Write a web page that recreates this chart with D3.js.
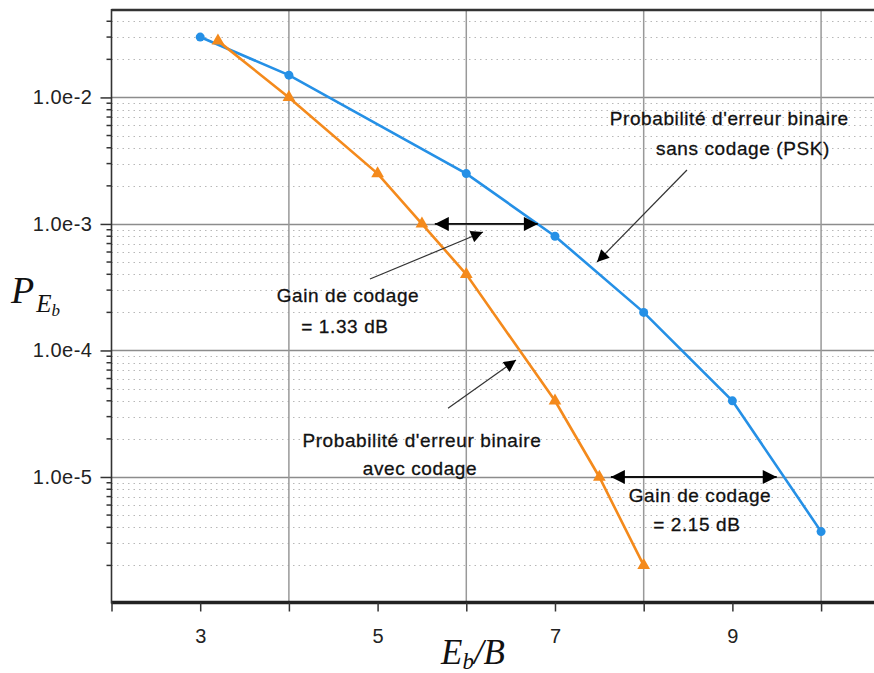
<!DOCTYPE html>
<html>
<head>
<meta charset="utf-8">
<script src="https://cdn.jsdelivr.net/npm/d3@7"></script>
<style>
  body { margin: 0; background: #fff; }
  .ann { font-family: "Liberation Sans", Arial, sans-serif; font-size: 19px; letter-spacing: 0.6px; fill: #111; stroke: #111; stroke-width: 0.3px; }
  .tick text { font-family: "Liberation Sans", Arial, sans-serif; }
  .math { font-family: "Liberation Serif", "DejaVu Serif", serif; font-style: italic; fill: #111; }
</style>
</head>
<body>
<div id="chart"></div>
<script>
var width = 874,
    height = 673;

// curves: Eb/B (dB) and bit error probability
var psk_x = [3, 4, 6, 7, 8, 9, 10];
var psk_p = [3.0e-2, 1.5e-2, 2.5e-3, 8.0e-4, 2.0e-4, 4.0e-5, 3.7e-6];
var cod_x = [3.2, 4, 5, 5.5, 6, 7, 7.5, 8];
var cod_p = [2.8e-2, 1.0e-2, 2.5e-3, 1.0e-3, 4.0e-4, 4.0e-5, 1.0e-5, 2.0e-6];

var xTicks = [2, 3, 4, 5, 6, 7, 8, 9, 10];
var xLabels = [3, 5, 7, 9];
var xGrid = [4, 6, 8, 10];
var yMajor = [1e-2, 1e-3, 1e-4, 1e-5];
var yLabels = ["1.0e-2", "1.0e-3", "1.0e-4", "1.0e-5"];

// annotations (data units)
var gainArrows = [
  { x1: 5.645, x2: 6.807, p: 1e-3 },
  { x1: 7.63, x2: 9.50, p: 1e-5 }
];
var pointers = [
  { x1: 4.914, p1: 3.67e-4, x2: 6.188, p2: 8.63e-4 },
  { x1: 5.794, p1: 3.5e-5, x2: 6.56, p2: 8.4e-5 },
  { x1: 8.488, p1: 2.67e-3, x2: 7.474, p2: 5.0e-4 }
];
var labels = [
  { t: "Probabilité d'erreur binaire", x: 8.965, p: 6.0e-3 },
  { t: "sans codage (PSK)", x: 9.12, p: 3.5e-3 },
  { t: "Gain de codage", x: 4.666, p: 2.42e-4 },
  { t: "= 1.33 dB", x: 4.632, p: 1.375e-4 },
  { t: "Probabilité d'erreur binaire", x: 5.50, p: 1.73e-5 },
  { t: "avec codage", x: 5.478, p: 1.04e-5 },
  { t: "Gain de codage", x: 8.635, p: 6.35e-6 },
  { t: "= 2.15 dB", x: 8.60, p: 3.75e-6 }
];

var plotLeft = 111.5, plotTop = 9, plotBottom = 603.5;

var x = d3.scaleLinear()
    .domain([2, 10.6])
    .range([plotLeft, 874.3]);

var y = d3.scaleLog()
    .domain([1e-6, 0.05])
    .range([plotBottom, plotTop]);

var svg = d3.select("#chart").append("svg")
    .attr("width", width)
    .attr("height", height);

svg.append("rect")
    .attr("width", width)
    .attr("height", height)
    .attr("fill", "#fff");

var defs = svg.append("defs");
defs.append("marker")
    .attr("id", "head")
    .attr("viewBox", "0 0 10 10")
    .attr("refX", 10).attr("refY", 5)
    .attr("markerWidth", 15).attr("markerHeight", 14)
    .attr("markerUnits", "userSpaceOnUse")
    .attr("orient", "auto-start-reverse")
    .append("path")
    .attr("d", "M0,0L10,5L0,10Z")
    .attr("fill", "#000");
defs.append("marker")
    .attr("id", "small")
    .attr("viewBox", "0 0 10 10")
    .attr("refX", 10).attr("refY", 5)
    .attr("markerWidth", 14).attr("markerHeight", 12)
    .attr("markerUnits", "userSpaceOnUse")
    .attr("orient", "auto")
    .append("path")
    .attr("d", "M0,0L10,5L0,10Z")
    .attr("fill", "#000");

// minor grid (dotted)
var minor = [];
for (var e = -6; e < -1; e++) {
  for (var m = 2; m <= 9; m++) {
    var v = m * Math.pow(10, e);
    if (v < 0.05) minor.push(v);
  }
}

var grid = svg.append("g");
grid.selectAll("line.minor")
    .data(minor)
    .enter().append("line")
    .attr("class", "minor")
    .attr("x1", plotLeft).attr("x2", width)
    .attr("y1", function (d) { return Math.round(y(d)) + 0.5; })
    .attr("y2", function (d) { return Math.round(y(d)) + 0.5; })
    .attr("stroke", "#b8b8b8")
    .attr("stroke-dasharray", "1.5,4")
    .attr("stroke-width", 1);

grid.selectAll("line.hmaj")
    .data(yMajor)
    .enter().append("line")
    .attr("class", "hmaj")
    .attr("x1", plotLeft).attr("x2", width)
    .attr("y1", function (d) { return Math.round(y(d)) + 0.5; })
    .attr("y2", function (d) { return Math.round(y(d)) + 0.5; })
    .attr("stroke", "#8c8c8c")
    .attr("stroke-width", 1.3);

grid.selectAll("line.vmaj")
    .data(xGrid)
    .enter().append("line")
    .attr("class", "vmaj")
    .attr("x1", function (d) { return x(d); })
    .attr("x2", function (d) { return x(d); })
    .attr("y1", plotTop).attr("y2", plotBottom)
    .attr("stroke", "#999")
    .attr("stroke-width", 1.5);

// frame
svg.append("line")
    .attr("x1", plotLeft).attr("x2", width)
    .attr("y1", plotTop + 1).attr("y2", plotTop + 1)
    .attr("stroke", "#333").attr("stroke-width", 2.5);

// x axis
var xAxis = svg.append("g")
    .attr("transform", "translate(0," + (plotBottom - 1) + ")")
    .call(d3.axisBottom(x)
        .tickValues(xTicks)
        .tickSize(9)
        .tickFormat(function (d) { return xLabels.indexOf(d) >= 0 ? d : ""; }));
xAxis.select(".domain").attr("stroke", "#222").attr("stroke-width", 3.5).attr("d", "M" + plotLeft + ",0H" + width);
xAxis.selectAll(".tick line").attr("stroke", "#333").attr("stroke-width", 1.5);
xAxis.selectAll(".tick text").style("font-size", "20px").attr("fill", "#222").attr("dy", "1.4em");

// y axis
var yAxis = svg.append("g")
    .attr("transform", "translate(" + plotLeft + ",0)")
    .call(d3.axisLeft(y)
        .tickValues(yMajor)
        .tickSize(11)
        .tickPadding(8)
        .tickFormat(function (d, i) { return yLabels[i]; }));
yAxis.select(".domain").attr("stroke", "#333").attr("stroke-width", 1.6).attr("d", "M0," + plotTop + "V" + plotBottom);
yAxis.selectAll(".tick line").attr("stroke", "#333").attr("stroke-width", 1.5);
yAxis.selectAll(".tick text").style("font-size", "20px").attr("fill", "#222").attr("letter-spacing", 0.5);

yAxis.selectAll("line.mt")
    .data(minor)
    .enter().append("line")
    .attr("class", "mt")
    .attr("x1", -5).attr("x2", 0)
    .attr("y1", function (d) { return y(d); })
    .attr("y2", function (d) { return y(d); })
    .attr("stroke", "#333").attr("stroke-width", 1.5);

// axis labels
var yl = svg.append("text").attr("class", "math").attr("x", 11).attr("y", 303);
yl.append("tspan").attr("font-size", 38).text("P");
yl.append("tspan").attr("font-size", 25).attr("dx", 2).attr("dy", 9).text("E");
yl.append("tspan").attr("font-size", 17).attr("dy", 4).text("b");

var xl = svg.append("text").attr("class", "math").attr("x", 441).attr("y", 664);
xl.append("tspan").attr("font-size", 35).text("E");
xl.append("tspan").attr("font-size", 23).attr("dy", 5).text("b");
xl.append("tspan").attr("font-size", 35).attr("dy", -5).text("/B");

// curves
var line = d3.line()
    .x(function (d) { return x(d[0]); })
    .y(function (d) { return y(d[1]); });

var blue = "#2590e6", orange = "#f48a1c";
var psk = d3.zip(psk_x, psk_p);
var cod = d3.zip(cod_x, cod_p);

svg.append("path")
    .datum(psk)
    .attr("d", line)
    .attr("fill", "none")
    .attr("stroke", blue)
    .attr("stroke-width", 2.6);

svg.append("path")
    .datum(cod)
    .attr("d", line)
    .attr("fill", "none")
    .attr("stroke", orange)
    .attr("stroke-width", 2.6);

svg.selectAll("circle.psk")
    .data(psk)
    .enter().append("circle")
    .attr("class", "psk")
    .attr("cx", function (d) { return x(d[0]); })
    .attr("cy", function (d) { return y(d[1]); })
    .attr("r", 4.5)
    .attr("fill", blue);

svg.selectAll("path.cod")
    .data(cod)
    .enter().append("path")
    .attr("class", "cod")
    .attr("d", d3.symbol().type(d3.symbolTriangle).size(70))
    .attr("transform", function (d) { return "translate(" + x(d[0]) + "," + y(d[1]) + ")"; })
    .attr("fill", orange);

// annotations
svg.selectAll("line.gain")
    .data(gainArrows)
    .enter().append("line")
    .attr("class", "gain")
    .attr("x1", function (d) { return x(d.x1); })
    .attr("x2", function (d) { return x(d.x2); })
    .attr("y1", function (d) { return y(d.p); })
    .attr("y2", function (d) { return y(d.p); })
    .attr("stroke", "#111")
    .attr("stroke-width", 1.8)
    .attr("marker-start", "url(#head)")
    .attr("marker-end", "url(#head)");

svg.selectAll("line.ptr")
    .data(pointers)
    .enter().append("line")
    .attr("class", "ptr")
    .attr("x1", function (d) { return x(d.x1); })
    .attr("x2", function (d) { return x(d.x2); })
    .attr("y1", function (d) { return y(d.p1); })
    .attr("y2", function (d) { return y(d.p2); })
    .attr("stroke", "#333")
    .attr("stroke-width", 1.2)
    .attr("marker-end", "url(#small)");

svg.selectAll("text.ann")
    .data(labels)
    .enter().append("text")
    .attr("class", "ann")
    .attr("x", function (d) { return x(d.x); })
    .attr("y", function (d) { return y(d.p); })
    .attr("text-anchor", "middle")
    .text(function (d) { return d.t; });
</script>
</body>
</html>
